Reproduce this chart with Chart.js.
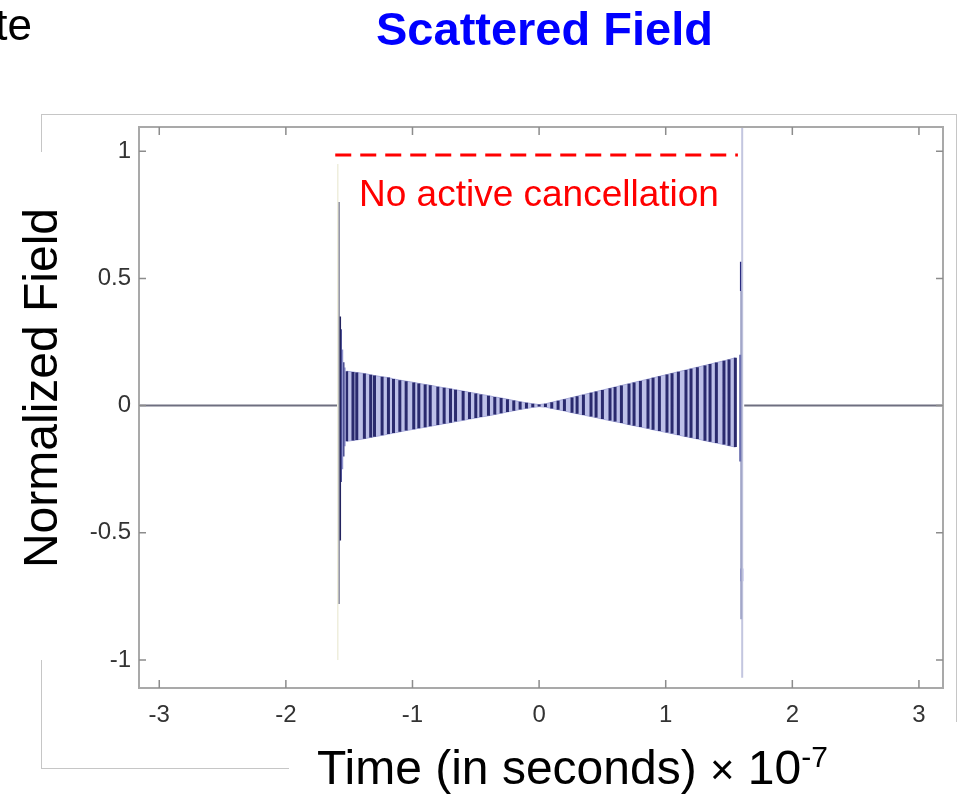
<!DOCTYPE html>
<html>
<head>
<meta charset="utf-8">
<script src="https://cdn.jsdelivr.net/npm/chart.js@4.4.1/dist/chart.umd.min.js"></script>
<style>
  html, body { margin: 0; padding: 0; background: #fff; }
  body { width: 967px; height: 796px; position: relative; overflow: hidden; font-family: 'Liberation Sans', Arial, sans-serif; }
  #chart { position: absolute; left: 0; top: 0; }
  .txt { position: absolute; white-space: nowrap; }
  .frame { position: absolute; background: #c6c6c6; }
</style>
</head>
<body>
<canvas id="chart" width="967" height="796"></canvas>

<div class="frame" style="left:41px; top:114px; width:915px; height:1px;"></div>
<div class="frame" style="left:41px; top:114px; width:1px; height:38px;"></div>
<div class="frame" style="left:41px; top:660px; width:1px; height:108px;"></div>
<div class="frame" style="left:41px; top:768px; width:248px; height:1px;"></div>
<div class="frame" style="left:956px; top:114px; width:1px; height:608px;"></div>

<div class="txt" style="left:-100px; top:3px; width:132px; text-align:right; font-size:44px; line-height:44px; color:#000;">te</div>
<div class="txt" style="left:376px; top:5px; font-size:47px; line-height:47px; font-weight:bold; color:#0000ff;">Scattered Field</div>
<div class="txt" style="left:339px; top:175px; width:400px; text-align:center; font-size:37px; line-height:37px; color:#ff0000;">No active cancellation</div>
<div class="txt" style="left:-159px; top:364px; width:400px; height:48px; text-align:center; font-size:48px; line-height:48px; color:#000; transform:rotate(-90deg);">Normalized Field</div>
<div class="txt" style="left:317px; top:744px; font-size:48px; line-height:48px; color:#000;">Time (in seconds) <span style="font-size:42px;">×</span> 10<span style="font-size:30px; position:relative; top:-17px;">-7</span></div>

<script>
// axes
const xMin = -3.16, xMax = 3.19;
const yMin = -1.11, yMax = 1.095;
const xTicks = [-3, -2, -1, 0, 1, 2, 3];
const yTicks = [-1, -0.5, 0, 0.5, 1];

// oscillation stripes (time, upper and lower excursion)
const stripeTimes = [-1.52, -1.47, -1.44, -1.38, -1.33, -1.30, -1.24, -1.19, -1.15, -1.10,
  -1.05, -0.99, -0.95, -0.90, -0.86, -0.80, -0.75, -0.70, -0.66, -0.60,
  -0.55, -0.50, -0.46, -0.40, -0.35, -0.30, -0.25, -0.20, -0.15, -0.10,
  -0.05, 0.00, 0.05, 0.10, 0.15, 0.20, 0.26, 0.30, 0.35, 0.41,
  0.45, 0.50, 0.56, 0.60, 0.65, 0.71, 0.75, 0.80, 0.86, 0.90,
  0.95, 1.01, 1.05, 1.10, 1.16, 1.20, 1.25, 1.31, 1.35, 1.40,
  1.46, 1.50, 1.55];
const stripeTop = [0.135, 0.132, 0.130, 0.126, 0.121, 0.118, 0.113, 0.110, 0.105, 0.100,
  0.096, 0.091, 0.087, 0.083, 0.080, 0.074, 0.070, 0.066, 0.062, 0.057,
  0.052, 0.048, 0.044, 0.039, 0.034, 0.030, 0.025, 0.020, 0.015, 0.011,
  0.007, 0.004, 0.007, 0.013, 0.019, 0.025, 0.032, 0.037, 0.043, 0.050,
  0.055, 0.061, 0.068, 0.073, 0.079, 0.086, 0.091, 0.097, 0.104, 0.109,
  0.115, 0.122, 0.127, 0.133, 0.140, 0.145, 0.151, 0.158, 0.163, 0.169,
  0.176, 0.181, 0.188];
const stripeBottom = [-0.140, -0.137, -0.135, -0.130, -0.125, -0.122, -0.117, -0.112, -0.108, -0.103,
  -0.098, -0.093, -0.089, -0.085, -0.081, -0.076, -0.071, -0.067, -0.063, -0.058,
  -0.053, -0.049, -0.045, -0.040, -0.035, -0.030, -0.025, -0.020, -0.015, -0.011,
  -0.007, -0.004, -0.006, -0.011, -0.016, -0.021, -0.028, -0.032, -0.037, -0.043,
  -0.047, -0.053, -0.059, -0.063, -0.068, -0.075, -0.079, -0.084, -0.090, -0.095,
  -0.100, -0.106, -0.110, -0.116, -0.122, -0.126, -0.131, -0.138, -0.142, -0.147,
  -0.153, -0.158, -0.163];

// spikes at the wavefront edges
const spikeTimes = [-1.590, -1.582, -1.576, -1.578, -1.565, -1.555, -1.545, -1.535, 1.588, 1.596, 1.604, 1.598, 1.600];
const spikeTops = [0.95, 0.80, 0.35, -0.30, 0.30, 0.22, 0.17, 0.15, 0.20, 0.45, 1.10, 0.565, -0.64];
const spikeBottoms = [-1.00, -0.78, -0.53, -0.40, -0.30, -0.25, -0.20, -0.16, -0.22, -0.84, -1.07, 0.45, -0.69];

// quiet baseline before and after the pulse
const quietLeft = [xMin, -1.59];
const quietRight = [1.62, xMax];

// reference level
const refTimes = [-1.61, 1.57];
const refLevel = 0.985;

const spikeColors = ['#efeedd', '#7c7e94', '#23235f', '#3a3ad0', '#4a4d96', '#8f93cc', '#3d3f86', '#a6a9da', '#6b6fb0', '#a3a7c9', '#c3c6df', '#2a2a80', '#3535c0'];
const spikeWidths = [1.5, 2, 3, 3, 2, 2, 2, 2, 2, 2, 2, 3, 3];

// one short vertical segment per stripe, separated by gaps
const stripes = [];
stripeTimes.forEach((t, i) => {
    stripes.push({ x: t, y: stripeTop[i] }, { x: t, y: stripeBottom[i] }, { x: t, y: null });
});

const line = (data, color, width, extra) => Object.assign({
    data, borderColor: color, borderWidth: width, pointRadius: 0, tension: 0, fill: false, spanGaps: false
}, extra || {});

const datasets = [];
datasets.push(line(refTimes.map(t => ({ x: t, y: refLevel })), '#ff0000', 3, { borderDash: [16, 9] }));
spikeTimes.forEach((t, i) => {
    datasets.push(line([{ x: t, y: spikeTops[i] }, { x: t, y: spikeBottoms[i] }], spikeColors[i], spikeWidths[i]));
});
datasets.push(line(stripes, '#2a2a6e', 3, { borderCapStyle: 'butt' }));
const upperIdx = datasets.length;
datasets.push(line(stripeTimes.map((t, i) => ({ x: t, y: stripeTop[i] })), '#a2a5d6', 1,
    { fill: { target: upperIdx + 1 }, backgroundColor: 'rgba(172,176,226,0.8)' }));
datasets.push(line(stripeTimes.map((t, i) => ({ x: t, y: stripeBottom[i] })), '#a2a5d6', 1));
datasets.push(line(quietLeft.map(t => ({ x: t, y: 0 })), '#6e6f80', 2));
datasets.push(line(quietRight.map(t => ({ x: t, y: 0 })), '#6e6f80', 2));

// MATLAB style box with inward tick marks
const axesBox = {
    id: 'axesBox',
    afterDatasetsDraw(chart) {
        const { ctx, chartArea: a, scales: { x, y } } = chart;
        ctx.save();
        ctx.strokeStyle = '#a9a9a9';
        ctx.lineWidth = 2;
        ctx.strokeRect(a.left, a.top, a.right - a.left, a.bottom - a.top);
        ctx.strokeStyle = '#8c8c8c';
        ctx.lineWidth = 1.5;
        ctx.beginPath();
        xTicks.forEach(v => {
            const px = x.getPixelForValue(v);
            ctx.moveTo(px, a.bottom); ctx.lineTo(px, a.bottom - 8);
            ctx.moveTo(px, a.top); ctx.lineTo(px, a.top + 8);
        });
        yTicks.forEach(v => {
            const py = y.getPixelForValue(v);
            ctx.moveTo(a.left, py); ctx.lineTo(a.left + 7, py);
            ctx.moveTo(a.right, py); ctx.lineTo(a.right - 7, py);
        });
        ctx.stroke();
        ctx.restore();
    }
};

const tickFont = { family: "'Liberation Sans Narrow', 'Liberation Sans', Arial, sans-serif", size: 24 };

new Chart(document.getElementById('chart'), {
    type: 'line',
    data: { datasets },
    options: {
        responsive: false,
        animation: false,
        devicePixelRatio: 1,
        layout: { padding: { left: 59, right: 24, top: 127, bottom: 68 } },
        plugins: { legend: { display: false }, tooltip: { enabled: false } },
        scales: {
            x: {
                type: 'linear', min: xMin, max: xMax,
                grid: { display: false, drawTicks: false }, border: { display: false },
                afterBuildTicks: s => { s.ticks = xTicks.map(v => ({ value: v })); },
                afterFit: s => { s.height = 40; },
                ticks: { padding: 13, color: '#333', font: tickFont, maxRotation: 0, callback: v => String(v) }
            },
            y: {
                type: 'linear', min: yMin, max: yMax,
                grid: { display: false, drawTicks: false }, border: { display: false },
                afterBuildTicks: s => { s.ticks = yTicks.map(v => ({ value: v })); },
                afterFit: s => { s.width = 80; },
                ticks: { padding: 8, color: '#333', font: tickFont, callback: v => String(v) }
            }
        }
    },
    plugins: [axesBox]
});
</script>
</body>
</html>
